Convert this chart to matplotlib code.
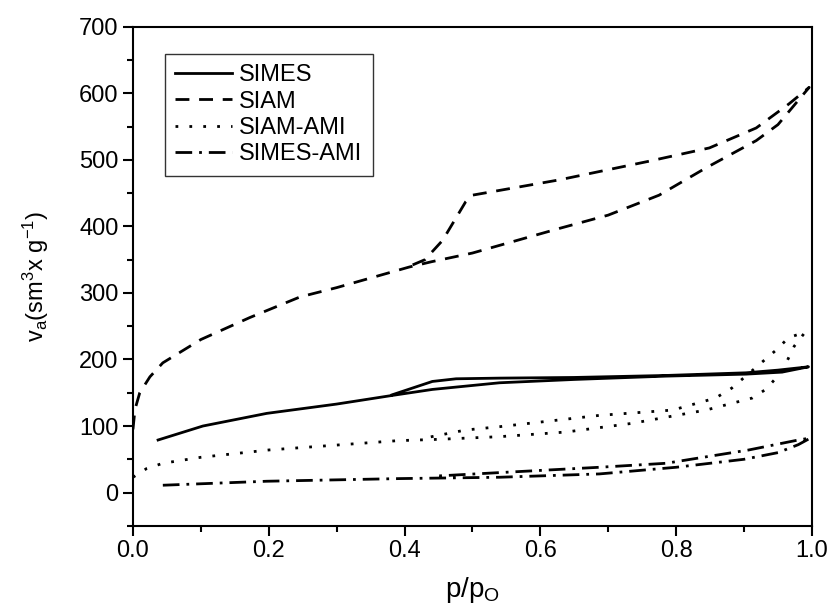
import numpy as np
import matplotlib
matplotlib.use("Agg")
import matplotlib.pyplot as plt
from matplotlib.ticker import MultipleLocator

plt.rcParams['font.family'] = ['Liberation Sans', 'DejaVu Sans']
plt.rcParams['mathtext.default'] = 'regular'

#### data read from the isotherms (adsorption branch then desorption branch)
simes_x = [0.037, 0.103, 0.197, 0.30, 0.382, 0.441, 0.54, 0.65, 0.785, 0.903, 0.956, 0.995,
           0.95, 0.903, 0.785, 0.65, 0.54, 0.476, 0.441, 0.382]
simes_y = [79, 100, 119, 133, 146, 155, 165, 170, 175, 178, 181, 189,
           184, 180, 176, 173, 172, 171, 167, 147]

siam_x = [0.0, 0.003, 0.01, 0.025, 0.044, 0.1, 0.172, 0.246, 0.3, 0.407, 0.44, 0.5, 0.628, 0.70,
          0.775, 0.844, 0.918, 0.95, 0.996,
          0.966, 0.918, 0.849, 0.76, 0.628, 0.5, 0.49, 0.456, 0.43, 0.40]
siam_y = [95, 125, 150, 174, 195, 230, 263, 294, 308, 339, 347, 360, 397, 417,
          447, 488, 529, 553, 609,
          584, 548, 518, 498, 470, 447, 437, 379, 350, 337]

siamami_x = [0.0, 0.02, 0.044, 0.1, 0.2, 0.295, 0.39, 0.45, 0.54, 0.638, 0.735, 0.844, 0.912,
             0.932, 0.956, 0.974, 0.99,
             0.966, 0.946, 0.922, 0.882, 0.858, 0.795, 0.687, 0.54, 0.49, 0.43]
siamami_y = [23, 36, 44, 53, 64, 71, 78, 80, 84, 91, 104, 124, 142,
             155, 182, 220, 241,
             233, 213, 192, 157, 142, 124, 116, 99, 94, 82]

simesami_x = [0.044, 0.197, 0.393, 0.54, 0.687, 0.8, 0.9, 0.95, 0.98, 0.998,
              0.98, 0.907, 0.785, 0.687, 0.54, 0.45]
simesami_y = [11, 17, 21, 23, 28, 38, 50, 60, 72, 82,
              79, 64, 44, 38, 30, 25]

labels = ['SIMES', 'SIAM', 'SIAM-AMI', 'SIMES-AMI']

#### plot graph
fig = plt.figure(figsize=(8.31, 6.1), dpi=100)
ax = fig.add_axes([0.160, 0.138, 0.817, 0.818])

ax.plot(simes_x, simes_y, color='black', lw=2, ls='-', label=labels[0])
ax.plot(siam_x, siam_y, color='black', lw=2, ls=(0, (5, 3.5)), label=labels[1])
ax.plot(siamami_x, siamami_y, color='black', lw=2, ls=(0, (1, 4)), label=labels[2])
ax.plot(simesami_x, simesami_y, color='black', lw=2, ls=(0, (6, 2.5, 1, 2.5)), label=labels[3])

ax.set_xlim(0, 1.0)
ax.set_ylim(-50, 700)
ax.xaxis.set_major_locator(MultipleLocator(0.2))
ax.xaxis.set_minor_locator(MultipleLocator(0.1))
ax.yaxis.set_major_locator(MultipleLocator(100))
ax.yaxis.set_minor_locator(MultipleLocator(50))
ax.tick_params(which='both', direction='out', width=1.5, labelsize=17, top=False, right=False)
ax.tick_params(which='major', length=7)
ax.tick_params(which='minor', length=4)
ax.xaxis.set_major_formatter(plt.FuncFormatter(lambda v, p: '%.1f' % v))
for s in ax.spines.values():
   s.set_linewidth(1.5)

ax.set_xlabel('p/p$_O$', fontsize=20, labelpad=9)
ax.set_ylabel('v$_a$(sm$^3$x g$^{-1}$)', fontsize=17, labelpad=20)

leg = ax.legend(loc='upper left', bbox_to_anchor=(0.047, 0.946), fontsize=17, frameon=True,
                fancybox=False, edgecolor='black', handlelength=2.4, handletextpad=0.3,
                labelspacing=0.18, borderpad=0.45, borderaxespad=0)
leg.get_frame().set_linewidth(1)

fig.savefig('out.png', dpi=100)
